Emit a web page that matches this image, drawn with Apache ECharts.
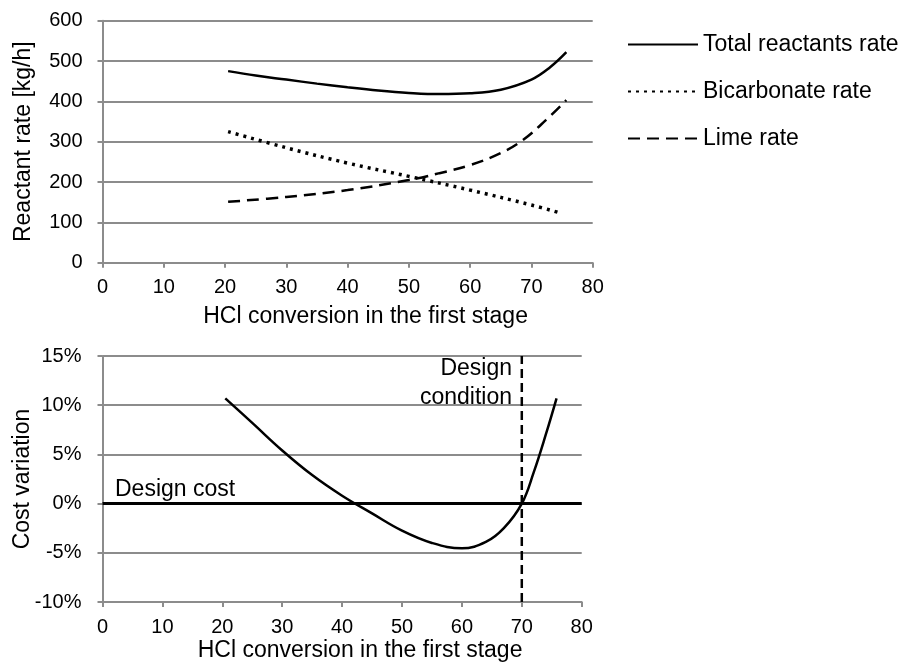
<!DOCTYPE html>
<html><head><meta charset="utf-8">
<script src="https://cdn.jsdelivr.net/npm/echarts@6/dist/echarts.min.js"></script>
<style>html,body{margin:0;padding:0;background:#fff}#c{width:910px;height:663px}</style>
</head><body><div id="c"></div>
<script>
// ---- data ----
const xTicks = [0, 10, 20, 30, 40, 50, 60, 70, 80];
const totalX = [20.5, 25, 30, 35, 40, 45, 50, 55, 60, 65, 70, 73, 75.7];
const totalY = [475, 464, 454, 444, 435, 427, 421, 418, 420, 429, 454, 484, 522];
const bicX = [20.5, 30, 40, 50, 60, 70, 75];
const bicY = [325, 285, 247, 214, 180, 143, 122];
const limeX = [20.5, 30, 40, 50, 55, 60, 65, 68.6, 72.4, 75.7];
const limeY = [151, 163, 180, 205, 222, 242, 272, 304, 354, 403];
const costX = [20.5, 25, 30, 35, 40, 45, 50, 55, 60, 64, 67, 70, 72, 74, 75.8];
const costY = [10.7, 8.2, 5.4, 2.9, 0.8, -1.0, -2.75, -4.0, -4.55, -3.9, -2.5, 0, 3.2, 7.0, 10.7];
const designCost = 0;
const designX = 70;
const seriesNames = ['Total reactants rate', 'Bicarbonate rate', 'Lime rate'];

const pairs = (xs, ys) => xs.map((x, i) => [x, ys[i]]);
const FONT = '"Liberation Sans", Arial, sans-serif';
const GRAY = '#8c8c8c';

const baseX = (gi, nameGap) => ({
  type: 'value', gridIndex: gi, min: 0, max: 80, interval: 10,
  name: 'HCl conversion in the first stage', nameLocation: 'middle', nameGap: nameGap,
  nameMoveOverlap: false,
  nameTextStyle: { fontFamily: FONT, fontSize: 23, color: '#000', padding: [0, 0, 0, 36] },
  axisLine: { onZero: false, lineStyle: { color: GRAY, width: 2 } },
  axisTick: { show: true, inside: false, length: 5, lineStyle: { color: GRAY, width: 2 } },
  axisLabel: { fontFamily: FONT, fontSize: 20, color: '#000', margin: 15 },
  splitLine: { show: false }
});

const chart = echarts.init(document.getElementById('c'));
chart.setOption({
  animation: false,
  backgroundColor: '#fff',
  grid: [
    { left: 102.5, right: 317.3, top: 20.7, height: 242, containLabel: false, outerBoundsMode: 'none' },
    { left: 102.5, right: 328.3, top: 356, height: 246, containLabel: false, outerBoundsMode: 'none' }
  ],
  xAxis: [baseX(0, 42), baseX(1, 37)],
  yAxis: [
    {
      type: 'value', gridIndex: 0, min: 0, max: 600, interval: 100,
      name: 'Reactant rate [kg/h]', nameLocation: 'middle', nameGap: 67, nameMoveOverlap: false,
      nameTextStyle: { fontFamily: FONT, fontSize: 23, color: '#000' },
      axisLine: { show: true, lineStyle: { color: GRAY, width: 2 } },
      axisTick: { show: true, inside: false, length: 5, lineStyle: { color: GRAY, width: 2 } },
      axisLabel: { fontFamily: FONT, fontSize: 20, color: '#000', margin: 20 },
      splitLine: { show: true, lineStyle: { color: GRAY, width: 2 } }
    },
    {
      type: 'value', gridIndex: 1, min: -10, max: 15, interval: 5,
      name: 'Cost variation', nameLocation: 'middle', nameGap: 68, nameMoveOverlap: false,
      nameTextStyle: { fontFamily: FONT, fontSize: 23, color: '#000' },
      axisLine: { show: true, onZero: false, lineStyle: { color: GRAY, width: 2 } },
      axisTick: { show: true, inside: false, length: 5, lineStyle: { color: GRAY, width: 2 } },
      axisLabel: { fontFamily: FONT, fontSize: 20, color: '#000', margin: 21, formatter: '{value}%' },
      splitLine: { show: true, lineStyle: { color: GRAY, width: 2 } }
    }
  ],
  legend: {
    orient: 'vertical', left: 622, top: 28, itemWidth: 70, itemHeight: 14, itemGap: 24,
    data: seriesNames,
    itemStyle: { opacity: 0 },
    textStyle: { fontFamily: FONT, fontSize: 23, color: '#000' }
  },
  graphic: [
    { type: 'text', x: 115, y: 478, style: { text: 'Design cost', font: '23px ' + FONT, fill: '#000' } },
    { type: 'text', x: 512, y: 354, style: { text: 'Design\ncondition', font: '23px ' + FONT, fill: '#000', align: 'right', lineHeight: 29 } }
  ],
  series: [
    {
      name: seriesNames[0], type: 'line', xAxisIndex: 0, yAxisIndex: 0, smooth: 0.4, symbol: 'none',
      data: pairs(totalX, totalY), lineStyle: { color: '#000', width: 2.5 }, itemStyle: { color: '#000' }
    },
    {
      name: seriesNames[1], type: 'line', xAxisIndex: 0, yAxisIndex: 0, smooth: 0.4, symbol: 'none',
      data: pairs(bicX, bicY), lineStyle: { color: '#000', width: 3.5, type: [3, 5] }, itemStyle: { color: '#000' }
    },
    {
      name: seriesNames[2], type: 'line', xAxisIndex: 0, yAxisIndex: 0, smooth: 0.4, symbol: 'none',
      data: pairs(limeX, limeY), lineStyle: { color: '#000', width: 2.5, type: [12, 7] }, itemStyle: { color: '#000' }
    },
    {
      name: 'Design cost', type: 'line', xAxisIndex: 1, yAxisIndex: 1, symbol: 'none',
      data: [[0, designCost], [80, designCost]], lineStyle: { color: '#000', width: 3 }
    },
    {
      name: 'Design condition', type: 'line', xAxisIndex: 1, yAxisIndex: 1, symbol: 'none',
      data: [[designX, -10], [designX, 15]], lineStyle: { color: '#000', width: 2.5, type: [9, 5] }
    },
    {
      name: 'Cost variation', type: 'line', xAxisIndex: 1, yAxisIndex: 1, smooth: 0.4, symbol: 'none',
      data: pairs(costX, costY), lineStyle: { color: '#000', width: 2.5 }
    }
  ]
});
</script>
</body></html>
